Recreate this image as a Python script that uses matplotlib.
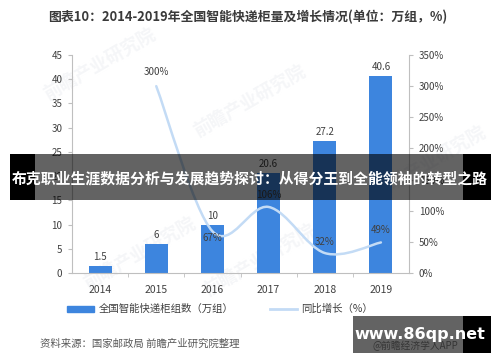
import numpy as np
import matplotlib
matplotlib.use("Agg")
import matplotlib.pyplot as plt
from matplotlib.path import Path
from matplotlib.patches import PathPatch, Rectangle
from matplotlib.lines import Line2D

plt.rcParams['font.family'] = ['Noto Sans CJK SC', 'DejaVu Sans']

# data
years = ['2014', '2015', '2016', '2017', '2018', '2019']
cabinets = [1.5, 6, 10, 20.6, 27.2, 40.6]          # 万组
growth_years = [1, 2, 3, 4, 5]                     # index into years
growth = [300, 67, 106, 32, 49]                    # %
growth_labels = ['300%', '67%', '106%', '32%', '49%']
growth_offsets = [14, -7, 12, 11, 12]              # label offset in px

bar_color = '#3d85de'
line_color = '#c3dbf5'
axis_color = '#bfbfbf'
text_color = '#404040'

fig = plt.figure(figsize=(5, 3.62), dpi=100)
ax = fig.add_axes([0.144, 0.246, 0.674, 0.602])
ax2 = ax.twinx()
ax.patch.set_visible(False)
ax2.patch.set_visible(False)

# faint background watermarks (behind the axes)
for (wx, wy, rot) in [(0.50, 0.72, 30), (0.28, 0.30, 30), (0.86, 0.55, 30), (0.52, 0.28, 30), (0.20, 0.82, 30)]:
    fig.text(wx, wy, '前瞻产业研究院', fontsize=13, color='#f5f6f8', rotation=rot,
             ha='center', va='center', fontweight='bold', zorder=-1)

x = np.arange(len(years))
bars = ax.bar(x, cabinets, width=0.41, color=bar_color, zorder=2)
for xi, v in zip(x, cabinets):
    ax.annotate(f'{v:g}', xy=(xi, v), xytext=(0, 9), textcoords='offset pixels',
                ha='center', va='center', fontsize=7, color=text_color)

ax.set_xlim(-0.5, 5.5)
ax.set_ylim(0, 45)
ax.set_yticks(range(0, 46, 5))
ax.set_xticks(x)
ax.set_xticklabels(years, fontsize=7.5, color=text_color)
ax.set_xticks(np.arange(0.5, 5, 1), minor=True)
ax.tick_params(axis='x', which='major', length=0, pad=9)
ax.tick_params(axis='x', which='minor', length=3, color=axis_color, direction='out')
ax.tick_params(axis='y', labelsize=7, colors=text_color, length=3, color=axis_color, pad=4)
for s in ['top', 'right']:
    ax.spines[s].set_visible(False)
ax.spines['left'].set_color(axis_color)
ax.spines['bottom'].set_color(axis_color)

ax2.set_ylim(0, 350)
ax2.set_yticks(range(0, 351, 50))
ax2.set_yticklabels([f'{t}%' for t in range(0, 351, 50)])
ax2.tick_params(axis='y', labelsize=7, colors=text_color, length=3, color=axis_color, pad=4)
for s in ['top', 'left', 'bottom']:
    ax2.spines[s].set_visible(False)
ax2.spines['right'].set_color(axis_color)

# smooth line (bezier through the data points)
pts = np.column_stack([growth_years, growth]).astype(float)
verts = [tuple(pts[0])]
codes = [Path.MOVETO]
n = len(pts)
for i in range(n - 1):
    p0 = pts[i - 1] if i > 0 else pts[i]
    p1 = pts[i]
    p2 = pts[i + 1]
    p3 = pts[i + 2] if i + 2 < n else pts[i + 1]
    c1 = p1 + (p2 - p0) / 6
    c2 = p2 - (p3 - p1) / 6
    verts += [tuple(c1), tuple(c2), tuple(p2)]
    codes += [Path.CURVE4] * 3
ax2.add_patch(PathPatch(Path(verts, codes), fill=False, edgecolor=line_color,
                        lw=1.8, zorder=3, capstyle='round'))
for gx, gv, lab, off in zip(growth_years, growth, growth_labels, growth_offsets):
    ax2.annotate(lab, xy=(gx, gv), xytext=(0, off), textcoords='offset pixels',
                 ha='center', va='center', fontsize=7, color=text_color)

# legend
handles = [Rectangle((0, 0), 1, 1, color=bar_color),
           Line2D([0], [0], color=line_color, lw=2)]
fig.legend(handles, ['全国智能快递柜组数（万组）', '同比增长（%）'],
           loc='center', bbox_to_anchor=(0.44, 0.146), ncol=2, frameon=False,
           fontsize=7.5, handlelength=2.6, handleheight=0.5, columnspacing=3.5,
           handletextpad=0.4, labelcolor=text_color)

# title and source
fig.text(0.496, 0.953, '图表10：2014-2019年全国智能快递柜量及增长情况(单位：万组，%)',
         ha='center', va='center', fontsize=9.3, fontweight='bold', color='#3a3a3a')
fig.text(0.08, 0.05, '资料来源：国家邮政局 前瞻产业研究院整理',
         ha='left', va='center', fontsize=7.5, color='#595959')
fig.text(0.83, 0.045, '@前瞻经济学人APP', ha='center', va='center', fontsize=7, color='#888888')

# banner overlay
fig.patches.append(Rectangle((0.02, 0.448), 0.962, 0.127, transform=fig.transFigure,
                             facecolor='black', alpha=0.61, zorder=5))
fig.patches.append(Rectangle((0.02, 0.448), 0.05, 0.127, transform=fig.transFigure,
                             facecolor='black', zorder=5))
fig.patches.append(Rectangle((0.926, 0.448), 0.056, 0.127, transform=fig.transFigure,
                             facecolor='black', zorder=5))
fig.text(0.5, 0.508, '布克职业生涯数据分析与发展趋势探讨：从得分王到全能领袖的转型之路',
         ha='center', va='center', fontsize=10.7, fontweight='bold', color='white', zorder=6)

# site watermark
fig.patches.append(Rectangle((0.706, 0.025), 0.22, 0.102, transform=fig.transFigure,
                             facecolor='black', alpha=0.61, zorder=5))
fig.patches.append(Rectangle((0.926, 0.025), 0.056, 0.102, transform=fig.transFigure,
                             facecolor='black', zorder=5))
fig.text(0.84, 0.075, 'www.86qp.net', ha='center', va='center', fontsize=11.5,
         fontweight='bold', color='white', zorder=6, family='DejaVu Sans')

fig.savefig('out.png', dpi=100)
